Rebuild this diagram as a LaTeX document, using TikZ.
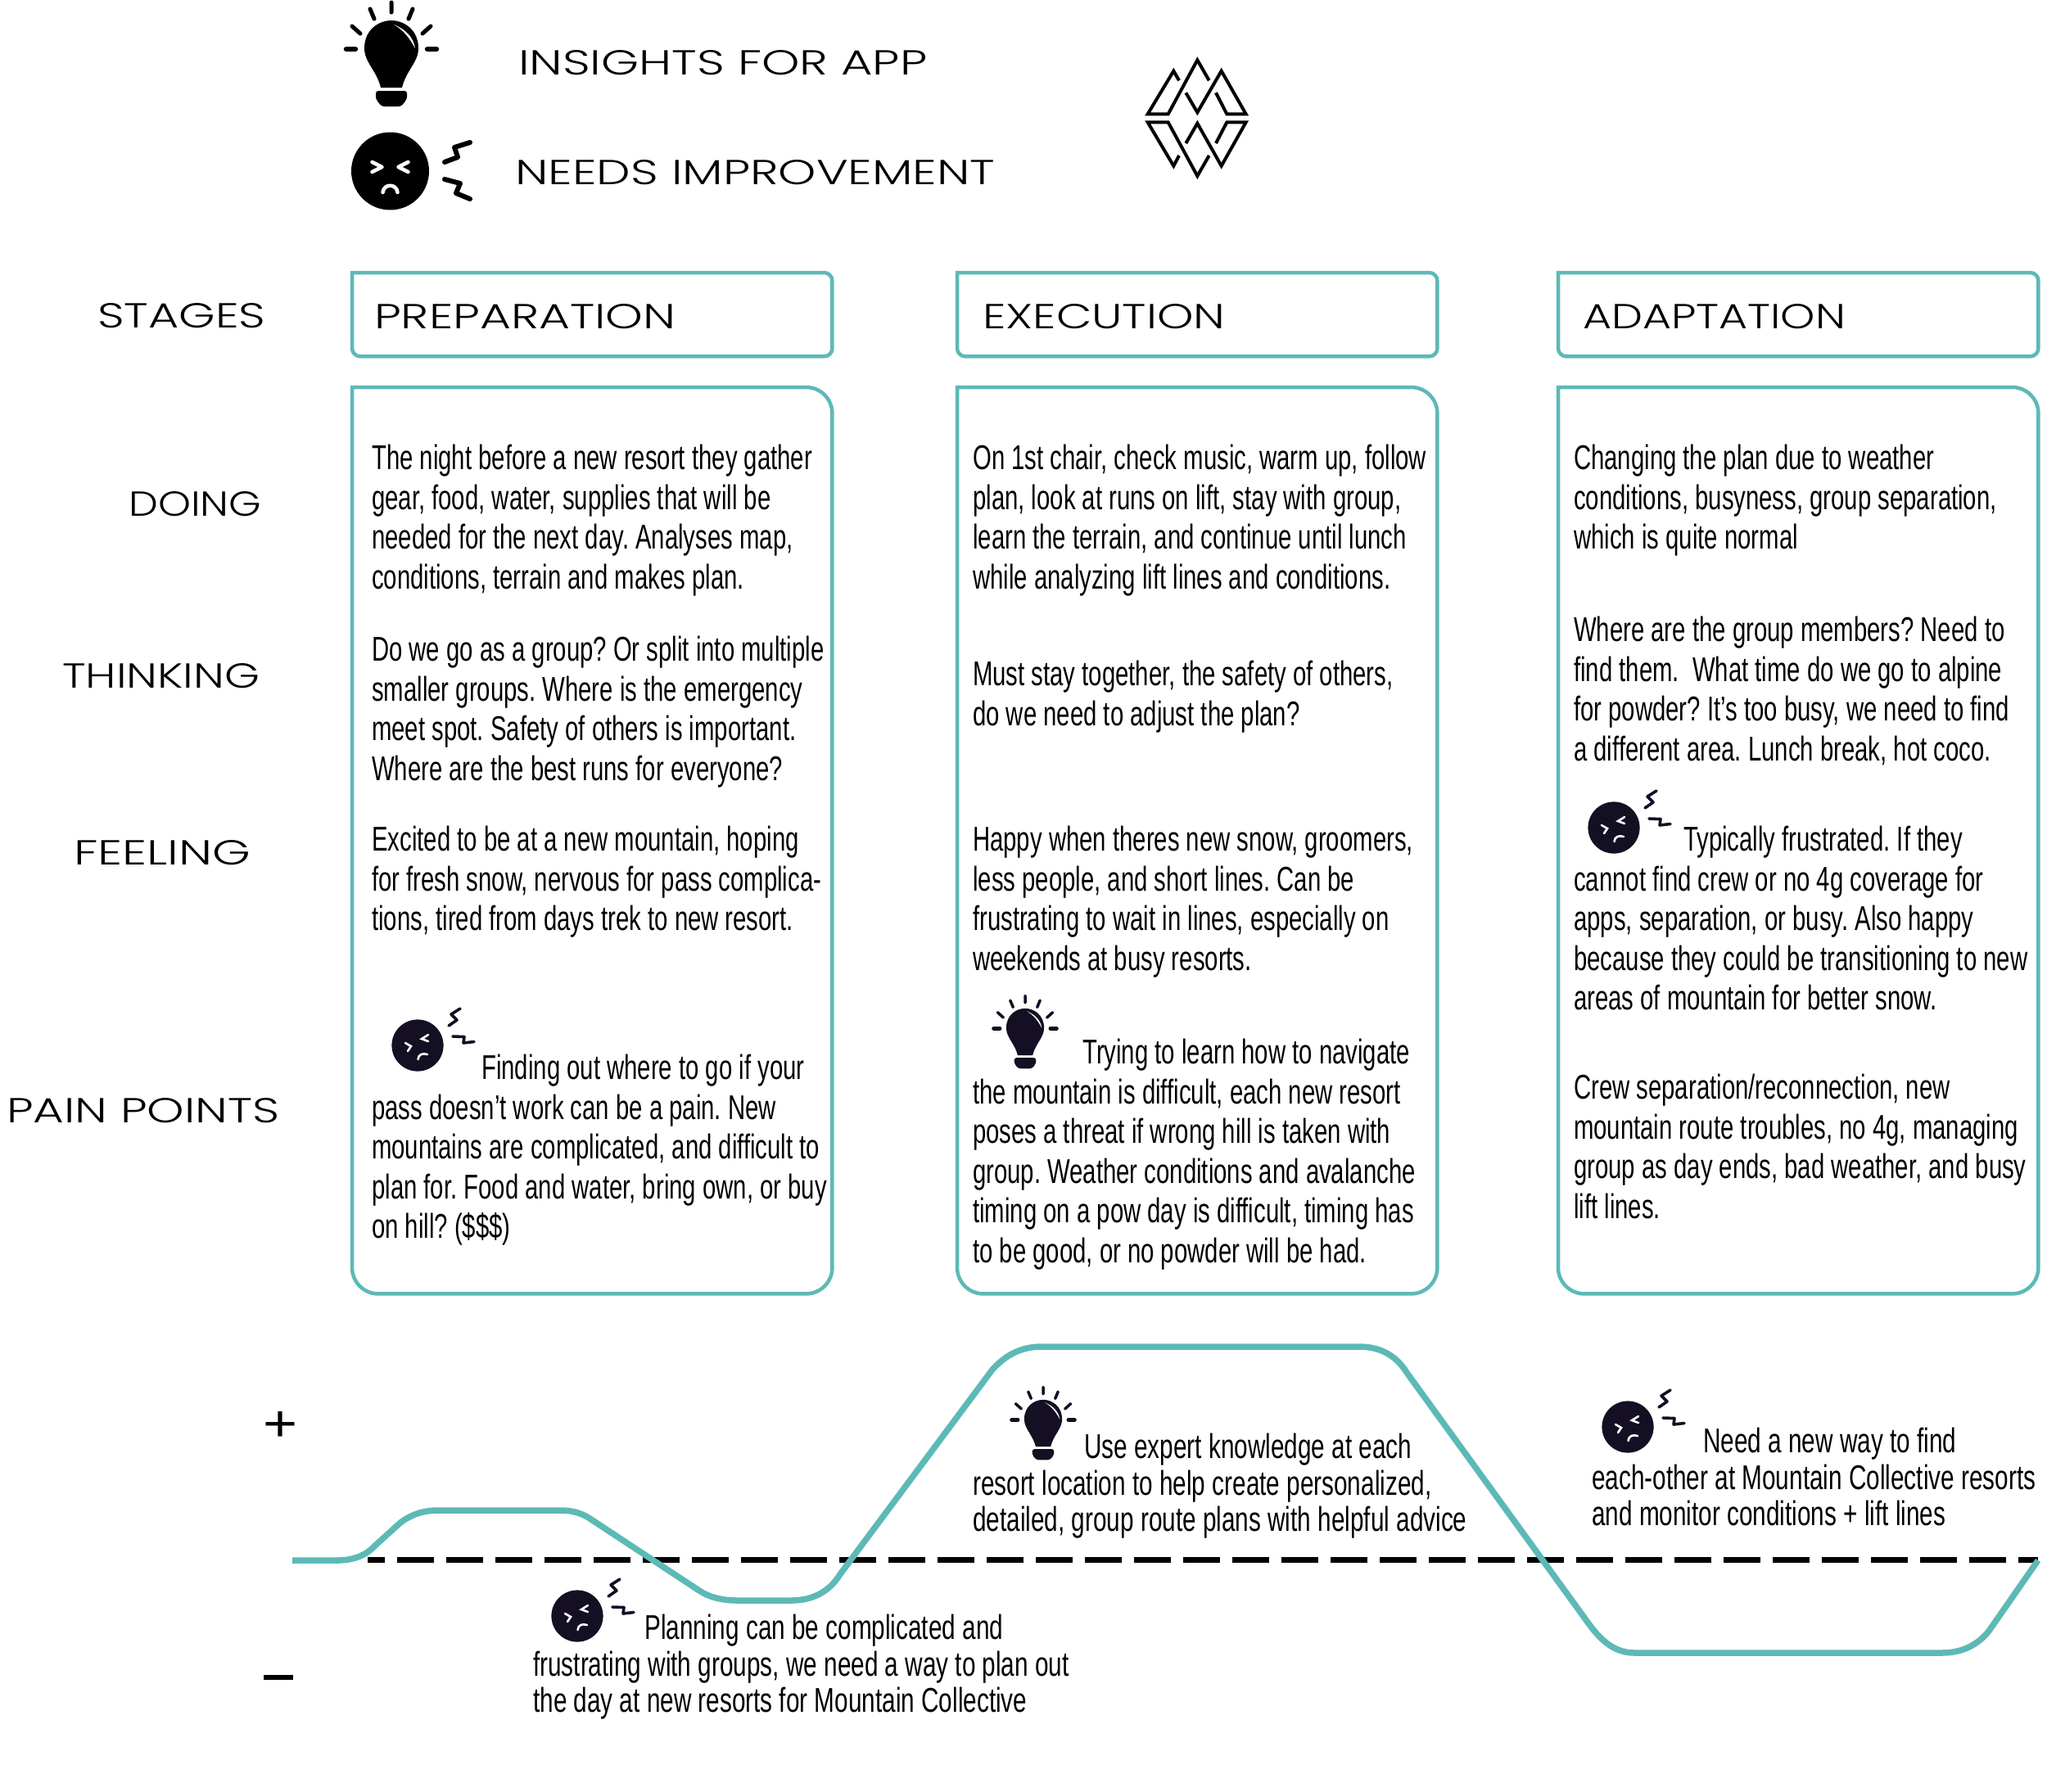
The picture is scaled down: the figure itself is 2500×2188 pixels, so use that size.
\documentclass[tikz,border=0pt]{standalone}
\usepackage{fontspec}
\setmainfont{Liberation Sans}
\frenchspacing
\newfontfamily\bodyfont[FakeStretch=0.698,Ligatures=TeX]{Liberation Sans}
\newfontfamily\lowfont[FakeStretch=0.708,Ligatures=TeX]{Liberation Sans}
\newfontfamily\headfont{Poppins Light}
\definecolor{tealline}{HTML}{5DB9B7}
\definecolor{ink}{HTML}{140F23}
\newcommand{\hd}[2]{\resizebox{#1pt}{30pt}{\headfont #2}}
\newcommand{\bulbicon}[5]{%
\begin{scope}[shift={(#1,#2)},scale=#3]
\fill[#5] (-13,46) .. controls (-18,25) and (-33,15) .. (-33,-2) .. controls (-33,-25) and (-15,-36) .. (0,-36) .. controls (15,-36) and (33,-25) .. (33,-2) .. controls (33,15) and (18,25) .. (13,46) -- cycle;
\fill[white] (3,-31) .. controls (18,-25) and (27,-15) .. (29,-2) .. controls (22,-15) and (15,-24) .. (3,-31) -- cycle;
\fill[#5,rounded corners=3pt] (-19,50) -- (19,50) -- (19,60) -- (12,69) -- (-12,69) -- (-19,60) -- cycle;
\draw[#5,line width=#4,line cap=round] (0,-58) -- (0,-46) (-26,-50) -- (-21,-38) (26,-50) -- (21,-38) (-48,-29) -- (-38,-20) (48,-29) -- (38,-20);
\draw[#5,line width=#4*1.3,line cap=round] (-55,-1) -- (-44,-1) (55,-1) -- (44,-1);
\end{scope}}
\newcommand{\smallface}[2]{%
\begin{scope}[shift={(#1,#2)}]
\fill[ink] (0,0) circle (31.6);
\draw[white,line width=2.6,line cap=round] (-15,-3) -- (-8,1) -- (-12,7) (13,-13) -- (5,-8) -- (13,-5) (0.5,17) .. controls (1,11) and (6,9) .. (12,11);
\draw[ink,line width=3.6,line cap=round,line join=round] (52,-45) -- (41,-38) -- (48,-31) -- (38,-24) (43,-11) -- (57,-10.5) -- (56,-3) -- (69,-4.5);
\end{scope}}
\tikzset{
  x=1pt,y=-1pt,
  stagebox/.style={minimum width=586pt,minimum height=102pt,inner sep=0pt,anchor=north west},
  bigbox/.style={minimum width=586pt,minimum height=1107pt,inner sep=0pt,anchor=north west},
  tealedge/.style={draw=tealline,line width=4.5pt,line join=miter},
  heading/.style={inner sep=0pt,anchor=south west},
  bodytext/.style={inner sep=0pt,anchor=north west,align=left,text=black,
    font=\bodyfont\fontsize{42}{48.5}\selectfont,
    execute at begin node={\rule{0pt}{40pt}}},
  lowtext/.style={bodytext,font=\lowfont\fontsize{42}{44.6}\selectfont},
  signtext/.style={inner sep=0pt,anchor=north west}
}
\begin{document}
\begin{tikzpicture}
\useasboundingbox (0,0) rectangle (2500,2188);
% legend
\bulbicon{478}{61}{1}{5pt}{black}
\begin{scope}[shift={(476.5,209)}]
\fill[black] (0,0) circle (47.5);
\draw[white,line width=4.5pt,line cap=round,line join=round] (-22,-11) -- (-10,-5) -- (-22,1) (22,-11) -- (10,-5) -- (22,1) (-9,26) .. controls (-8,15) and (8,15) .. (9,26);
\end{scope}
\draw[black,line width=6pt,line cap=round,line join=round] (574,174) -- (555,180) -- (559,192) -- (543,198) (543,219) -- (562,224) -- (557,236) -- (574,243);
\node[heading] (insights) at (633,92) {\hd{499}{INSIGHTS FOR APP}};
\node[heading] (needs) at (629,226) {\hd{586}{NEEDS IMPROVEMENT}};
% logo
\begin{scope}[shift={(1385,60)},scale=0.33333]
\draw[black,line width=4pt,line join=miter,line cap=butt]
 (165,115) -- (145,80) -- (50,238) -- (125,238) -- (232,40) -- (275,115)
 (190,160) -- (232,232) -- (320,80) -- (410,238) -- (340,238) -- (300,160)
 (165,390) -- (145,428) -- (50,268) -- (125,268) -- (232,465) -- (275,390)
 (190,345) -- (232,272) -- (320,428) -- (410,268) -- (340,268) -- (300,345);
\end{scope}
% row labels
\node[heading] (stages) at (119,401) {\hd{205}{STAGES}};
\node[heading] (doing) at (157,631) {\hd{162}{DOING}};
\node[heading] (thinking) at (76,841) {\hd{241}{THINKING}};
\node[heading] (feeling) at (90,1057) {\hd{216}{FEELING}};
\node[heading] (painpoints) at (8,1372) {\hd{333}{PAIN POINTS}};
% boxes
\foreach \nm/\xx in {a/430,b/1169,c/1903}{
  \node[stagebox] (st\nm) at (\xx,333) {};
  \node[bigbox] (bg\nm) at (\xx,473) {};
  \draw[tealedge] (st\nm.north) [rounded corners=10pt] -- (st\nm.north east) -- (st\nm.south east) -- (st\nm.south west) -- (st\nm.west) [sharp corners] -- (st\nm.north west) -- cycle;
  \draw[tealedge] (bg\nm.north) [rounded corners=32pt] -- (bg\nm.north east) -- (bg\nm.south east) -- (bg\nm.south west) -- (bg\nm.west) [sharp corners] -- (bg\nm.north west) -- cycle;
}
\node[heading] (prep) at (457,401.5) {\hd{368}{PREPARATION}};
\node[heading] (exec) at (1200,401.5) {\hd{296}{EXECUTION}};
\node[heading] (adap) at (1933,401.5) {\hd{321}{ADAPTATION}};
% column 1
\node[bodytext] (a1) at (454,543) {The night before a new resort they gather\\gear, food, water, supplies that will be\\needed for the next day. Analyses map,\\conditions, terrain and makes plan.};
\node[bodytext] (a2) at (454,777) {Do we go as a group? Or split into multiple\\smaller groups. Where is the emergency\\meet spot. Safety of others is important.\\Where are the best runs for everyone?};
\node[bodytext] (a3) at (454,1009) {Excited to be at a new mountain, hoping\\for fresh snow, nervous for pass complica-\\tions, tired from days trek to new resort.};
\node[bodytext] (a4) at (454,1288) {\hspace*{134pt}Finding out where to go if your\\pass doesn’t work can be a pain. New\\mountains are complicated, and difficult to\\plan for. Food and water, bring own, or buy\\on hill? (\$\$\$)};
\smallface{510}{1277}
% column 2
\node[bodytext] (b1) at (1188,543) {On 1st chair, check music, warm up, follow\\plan, look at runs on lift, stay with group,\\learn the terrain, and continue until lunch\\while analyzing lift lines and conditions.};
\node[bodytext] (b2) at (1188,807) {Must stay together, the safety of others,\\do we need to adjust the plan?};
\node[bodytext] (b3) at (1188,1009) {Happy when theres new snow, groomers,\\less people, and short lines. Can be\\frustrating to wait in lines, especially on\\weekends at busy resorts.};
\node[bodytext] (b4) at (1188,1269) {\hspace*{134pt}Trying to learn how to navigate\\the mountain is difficult, each new resort\\poses a threat if wrong hill is taken with\\group. Weather conditions and avalanche\\timing on a pow day is difficult, timing has\\to be good, or no powder will be had.};
\bulbicon{1252}{1257}{0.7}{3.5pt}{ink}
% column 3
\node[bodytext] (c1) at (1922,543) {Changing the plan due to weather\\conditions, busyness, group separation,\\which is quite normal};
\node[bodytext] (c2) at (1922,753) {Where are the group members? Need to\\find them.\ \ What time do we go to alpine\\for powder? It’s too busy, we need to find\\a different area. Lunch break, hot coco.};
\node[bodytext] (c3) at (1922,1009) {\hspace*{134pt}Typically frustrated. If they\\cannot find crew or no 4g coverage for\\apps, separation, or busy. Also happy\\because they could be transitioning to new\\areas of mountain for better snow.};
\smallface{1971}{1011}
\node[bodytext] (c4) at (1922,1312) {Crew separation/reconnection, new\\mountain route troubles, no 4g, managing\\group as day ends, bad weather, and busy\\lift lines.};
% journey line
\draw[black,line width=7pt,dash pattern=on 45pt off 15pt,dash phase=24pt] (449,1905.5) coordinate (dashstart) -- (2489,1905.5) coordinate (dashend);
\draw[tealline,line width=7.5pt,line join=round]
 (357,1906) -- (412,1906) .. controls (432,1906) and (447,1900) .. (458,1888)
 -- (489,1860) .. controls (505,1848) and (520,1845) .. (535,1845)
 -- (686,1845) .. controls (700,1845) and (712,1849) .. (722,1856)
 -- (854,1943) .. controls (866,1951) and (882,1955) .. (900,1955)
 -- (967,1955) .. controls (990,1955) and (1012,1946) .. (1026,1923)
 -- (1212,1673) .. controls (1230,1653) and (1250,1645) .. (1272,1645)
 -- (1660,1645) .. controls (1685,1645) and (1705,1655) .. (1719,1678)
 -- (1940,1983) .. controls (1958,2008) and (1975,2019) .. (1996,2019)
 -- (2372,2019) .. controls (2400,2019) and (2420,2006) .. (2432,1988)
 -- (2489,1906);
\node[signtext] (plus) at (321,1724) {\resizebox{42pt}{36pt}{+}};
\node[signtext] (minus) at (322,2046) {\resizebox{36pt}{6pt}{\rule{10pt}{1pt}}};
% bottom notes
\bulbicon{1274}{1735}{0.7}{3.5pt}{ink}
\node[lowtext] (low2) at (1188,1751) {\hspace*{136pt}Use expert knowledge at each\\resort location to help create personalized,\\detailed, group route plans with helpful advice};
\smallface{705}{1974}
\node[lowtext] (low1) at (651,1972) {\hspace*{136pt}Planning can be complicated and\\frustrating with groups, we need a way to plan out\\the day at new resorts for Mountain Collective};
\smallface{1988}{1743}
\node[lowtext] (low3) at (1944,1744) {\hspace*{136pt}Need a new way to find\\each-other at Mountain Collective resorts\\and monitor conditions + lift lines};
\end{tikzpicture}
\end{document}
